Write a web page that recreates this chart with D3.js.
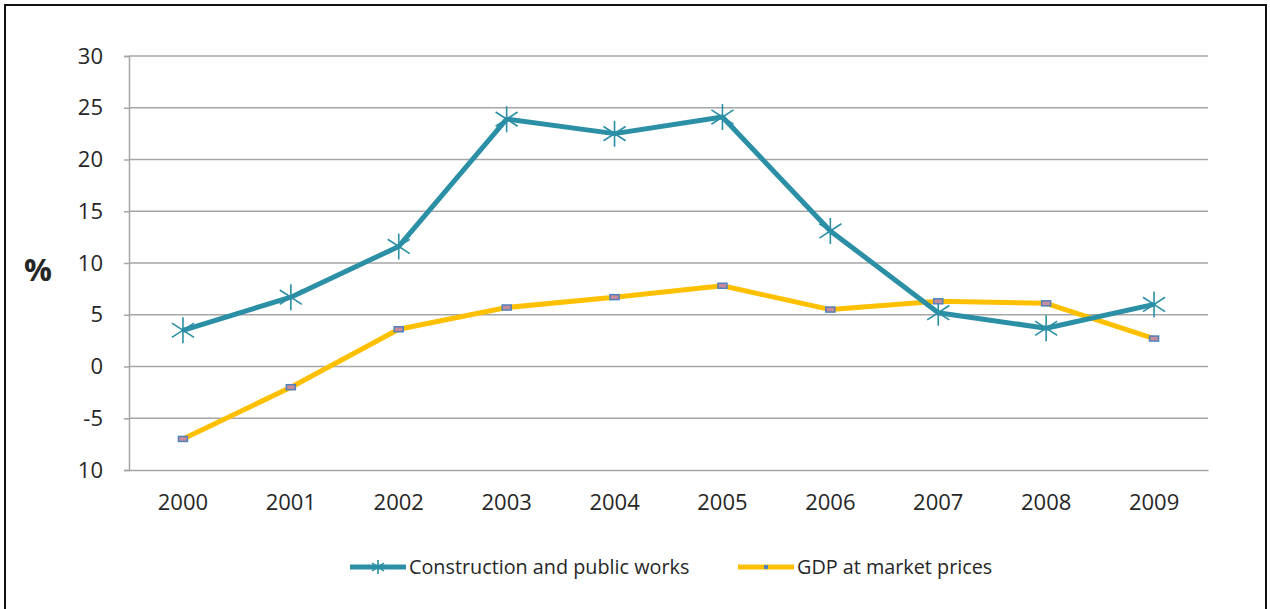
<!DOCTYPE html>
<html lang="en">
<head>
<meta charset="UTF-8">
<script src="https://d3js.org/d3.v7.min.js"></script>
<style>
    body { margin: 0; background: #fff; }
    svg text { font-family: "Open Sans", "Liberation Sans", sans-serif; fill: #262626; }
</style>
</head>
<body>
<svg id="chart" width="1270" height="609"></svg>
<script>
    const years = ["2000", "2001", "2002", "2003", "2004", "2005", "2006", "2007", "2008", "2009"];
    const construction = [3.5, 6.7, 11.6, 23.9, 22.5, 24.1, 13.1, 5.2, 3.7, 6.0];
    const gdp = [-7.0, -2.0, 3.6, 5.7, 6.7, 7.8, 5.5, 6.3, 6.1, 2.7];
    const yTicks = [-10, -5, 0, 5, 10, 15, 20, 25, 30];
    const yTickLabels = ["10", "-5", "0", "5", "10", "15", "20", "25", "30"];

    const svg = d3.select("#chart");
    const teal = "#2b8fa5";
    const gold = "#ffc000";

    // outer frame
    svg.append("rect")
        .attr("x", 5).attr("y", 5)
        .attr("width", 1261).attr("height", 620)
        .attr("fill", "none").attr("stroke", "#111").attr("stroke-width", 2);

    const plotLeft = 129, plotRight = 1208, plotTop = 56, plotBottom = 470;

    const x = d3.scaleBand().domain(years).range([plotLeft, plotRight]);
    const y = d3.scaleLinear().domain([-10, 30]).range([plotBottom, plotTop]);

    // gridlines
    svg.append("g")
        .selectAll("line")
        .data(yTicks.filter(d => d !== -10))
        .join("line")
        .attr("x1", plotLeft).attr("x2", plotRight)
        .attr("y1", d => y(d)).attr("y2", d => y(d))
        .attr("stroke", "#a6a6a6").attr("stroke-width", 1.5);

    // y axis
    const yAxis = svg.append("g")
        .attr("transform", `translate(${plotLeft},0)`)
        .call(d3.axisLeft(y).tickValues(yTicks).tickSize(5).tickPadding(21)
            .tickFormat((d, i) => yTickLabels[i]));
    yAxis.select(".domain").attr("stroke", "#a6a6a6").attr("stroke-width", 1.5);
    yAxis.selectAll(".tick line").attr("stroke", "#a6a6a6").attr("stroke-width", 1.5);
    yAxis.selectAll("text").style("font-size", "22px").attr("fill", "#262626");

    // x axis
    const xAxis = svg.append("g")
        .attr("transform", `translate(0,${plotBottom})`)
        .call(d3.axisBottom(x).tickSize(0).tickPadding(24));
    xAxis.select(".domain").attr("stroke", "#a6a6a6").attr("stroke-width", 1.5);
    xAxis.selectAll("text").style("font-size", "22px").attr("fill", "#262626");

    svg.append("text")
        .attr("x", 38).attr("y", 281)
        .attr("text-anchor", "middle")
        .style("font-size", "31px").style("font-weight", "bold")
        .text("%");

    const cx = d => x(d) + x.bandwidth() / 2;
    const line = d3.line().x((d, i) => cx(years[i])).y(d => y(d));

    function star(g, px, py, r) {
        g.append("path")
            .attr("d", `M${px},${py - r}V${py + r}M${px - r * 0.85},${py - r * 0.55}L${px + r * 0.85},${py + r * 0.55}M${px - r * 0.85},${py + r * 0.55}L${px + r * 0.85},${py - r * 0.55}`)
            .attr("stroke", teal).attr("stroke-width", 1.6).attr("fill", "none");
    }
    function dash(g, px, py) {
        g.append("rect")
            .attr("x", px - 4.5).attr("y", py - 2.5)
            .attr("width", 9).attr("height", 5)
            .attr("fill", "#c98b9a").attr("stroke", "#4f81bd").attr("stroke-width", 1.5);
    }

    // GDP series
    svg.append("path")
        .datum(gdp)
        .attr("d", line)
        .attr("fill", "none").attr("stroke", gold).attr("stroke-width", 5)
        .attr("stroke-linejoin", "round");

    // construction series
    svg.append("path")
        .datum(construction)
        .attr("d", line)
        .attr("fill", "none").attr("stroke", teal).attr("stroke-width", 5)
        .attr("stroke-linejoin", "round");

    const markers = svg.append("g");
    construction.forEach((v, i) => star(markers, cx(years[i]), y(v), 13));
    gdp.forEach((v, i) => dash(markers, cx(years[i]), y(v)));

    // legend
    const legend = svg.append("g");
    const items = [
        { name: "Construction and public works", x0: 350, kind: "star", color: teal },
        { name: "GDP at market prices", x0: 738, kind: "dash", color: gold }
    ];
    items.forEach(it => {
        const ly = 567;
        legend.append("line")
            .attr("x1", it.x0).attr("x2", it.x0 + 56)
            .attr("y1", ly).attr("y2", ly)
            .attr("stroke", it.color).attr("stroke-width", 5);
        if (it.kind === "star") star(legend, it.x0 + 28, ly, 7);
        else legend.append("rect")
            .attr("x", it.x0 + 26).attr("y", ly - 2).attr("width", 4).attr("height", 4)
            .attr("fill", "#4f81bd");
        legend.append("text")
            .attr("x", it.x0 + 59).attr("y", ly + 7)
            .style("font-size", "19.8px")
            .text(it.name);
    });
</script>
</body>
</html>
